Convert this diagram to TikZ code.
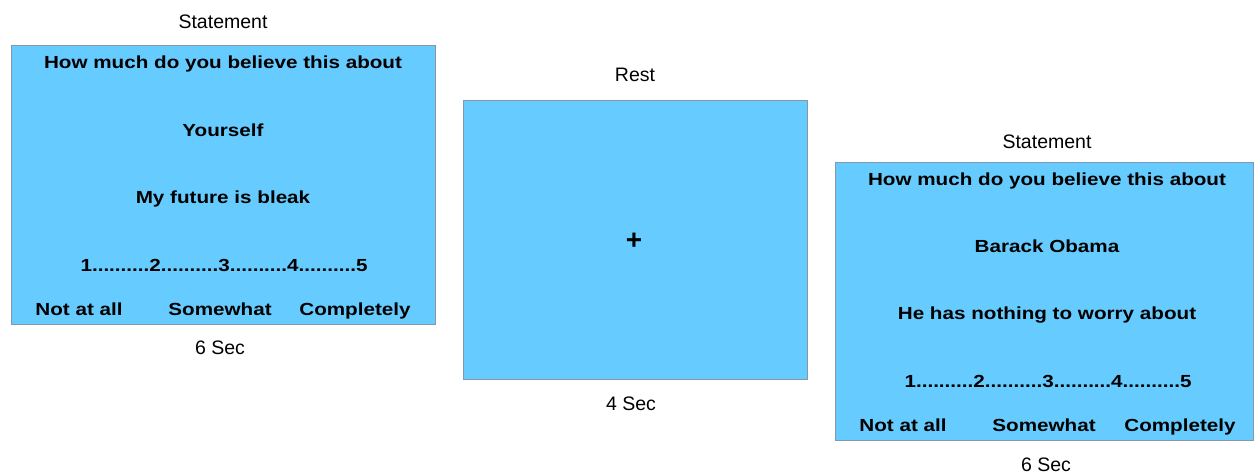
\documentclass[tikz,border=0pt]{standalone}
\usepackage{fontspec}
\setmainfont{Liberation Sans}
\definecolor{screenfill}{HTML}{66CCFF}
\definecolor{screenedge}{HTML}{8497AB}
% bold screen text is set a little wider than the font's natural width
\newcommand{\widebold}[1]{\scalebox{1.18}[1]{\bfseries #1}}
\newcommand{\ratingscale}{1..........2..........3..........4..........5}
\tikzset{
  screen/.style={draw=screenedge, fill=screenfill, line width=1pt,
                 inner sep=0pt, outer sep=0pt, anchor=north west},
  q/.style={anchor=base, inner sep=0pt, font=\fontsize{17.5}{20}\selectfont},
  lbl/.style={anchor=base, inner sep=0pt, font=\fontsize{19.5}{22}\selectfont},
}
\begin{document}
\begin{tikzpicture}[x=1pt,y=-1pt]
\useasboundingbox (0,0) rectangle (1254,474);

% ---- first statement screen ----
\node[screen, minimum width=424pt, minimum height=279pt] (s1) at (11,45) {};
\node[lbl] (s1title) at (223,28) {Statement};
\node[q] (s1q)    at (223,68)  {\widebold{How much do you believe this about}};
\node[q] (s1who)  at (223,136) {\widebold{Yourself}};
\node[q] (s1stmt) at (223,203) {\widebold{My future is bleak}};
\node[q] (s1rate) at (224,271) {\widebold{\ratingscale}};
\node[q] (s1lo)   at (79,315)  {\widebold{Not at all}};
\node[q] (s1mid)  at (220,315) {\widebold{Somewhat}};
\node[q] (s1hi)   at (355,315) {\widebold{Completely}};
\node[lbl] (s1time) at (220,354) {6 Sec};

% ---- rest screen with fixation cross ----
\node[screen, minimum width=344pt, minimum height=279pt] (s2) at (463,100) {};
\node[lbl] (s2title) at (635,81) {Rest};
\node[anchor=center, inner sep=0pt, font=\fontsize{28}{30}\selectfont\bfseries] (cross) at (634,241) {+};
\node[lbl] (s2time) at (631,410) {4 Sec};

% ---- second statement screen ----
\node[screen, minimum width=418pt, minimum height=278pt] (s3) at (835,162) {};
\node[lbl] (s3title) at (1047,148) {Statement};
\node[q] (s3q)    at (1047,185) {\widebold{How much do you believe this about}};
\node[q] (s3who)  at (1047,252) {\widebold{Barack Obama}};
\node[q] (s3stmt) at (1047,319) {\widebold{He has nothing to worry about}};
\node[q] (s3rate) at (1048,387) {\widebold{\ratingscale}};
\node[q] (s3lo)   at (903,431)  {\widebold{Not at all}};
\node[q] (s3mid)  at (1044,431) {\widebold{Somewhat}};
\node[q] (s3hi)   at (1180,431) {\widebold{Completely}};
\node[lbl] (s3time) at (1046,471) {6 Sec};
\end{tikzpicture}
\end{document}
